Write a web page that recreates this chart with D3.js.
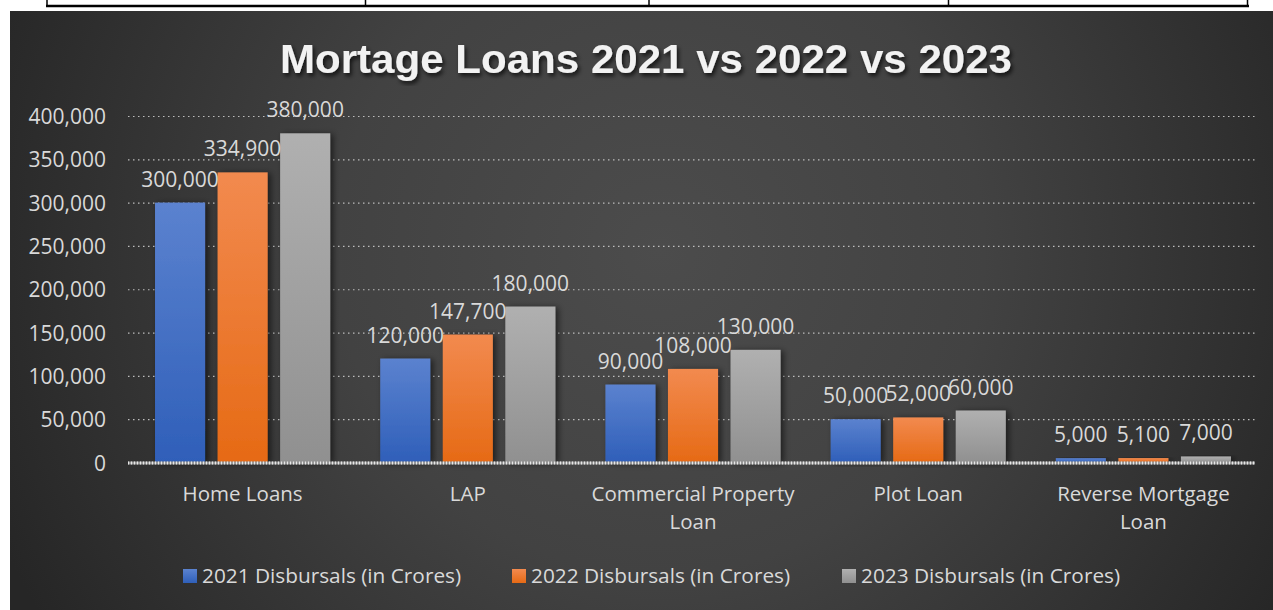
<!DOCTYPE html>
<html>
<head>
<meta charset="utf-8">
<script src="https://cdn.jsdelivr.net/npm/d3@7"></script>
<style>
  body { margin: 0; background: #fff; }
  svg { display: block; }
  .lbl { font-family: "Open Sans", "Liberation Sans", sans-serif; fill: #d9d9d9; }
</style>
</head>
<body>
<svg id="chart" width="1273" height="610"></svg>
<script>
// chart values
const categories = ["Home Loans", "LAP", "Commercial Property Loan", "Plot Loan", "Reverse Mortgage Loan"];
const categoryLines = [["Home Loans"], ["LAP"], ["Commercial Property", "Loan"], ["Plot Loan"], ["Reverse Mortgage", "Loan"]];
const seriesNames = ["2021 Disbursals (in Crores)", "2022 Disbursals (in Crores)", "2023 Disbursals (in Crores)"];
const values2021 = [300000, 120000, 90000, 50000, 5000];
const values2022 = [334900, 147700, 108000, 52000, 5100];
const values2023 = [380000, 180000, 130000, 60000, 7000];
const yTicks = [0, 50000, 100000, 150000, 200000, 250000, 300000, 350000, 400000];
const title = "Mortage Loans 2021 vs 2022 vs 2023";

const seriesValues = [values2021, values2022, values2023];
const colors = [
  ["#5b82cf", "#2f5fb9"],
  ["#f28a4f", "#e66a15"],
  ["#b0b0b0", "#909090"]
];

const svg = d3.select('#chart');
const defs = svg.append('defs');

// page table strip at the very top
const strip = svg.append('g');
strip.append('line').attr('x1', 46).attr('x2', 1249).attr('y1', 6).attr('y2', 6)
  .attr('stroke', '#000').attr('stroke-width', 2.5);
[47, 365.5, 649, 948.5, 1247.5].forEach(x => {
  strip.append('line').attr('x1', x).attr('x2', x).attr('y1', 0).attr('y2', 7)
    .attr('stroke', '#000').attr('stroke-width', 1.5);
});

// background
const bg = defs.append('radialGradient').attr('id', 'bg')
  .attr('gradientUnits', 'userSpaceOnUse')
  .attr('cx', 660).attr('cy', 250).attr('r', 720);
bg.append('stop').attr('offset', '0').attr('stop-color', '#4c4c4c');
bg.append('stop').attr('offset', '0.45').attr('stop-color', '#424242');
bg.append('stop').attr('offset', '1').attr('stop-color', '#262626');
svg.append('rect').attr('x', 10).attr('y', 11).attr('width', 1263).attr('height', 599)
  .attr('fill', 'url(#bg)');

colors.forEach((c, i) => {
  const g = defs.append('linearGradient').attr('id', 'bar' + i)
    .attr('x1', 0).attr('x2', 0).attr('y1', 0).attr('y2', 1);
  g.append('stop').attr('offset', 0).attr('stop-color', c[0]);
  g.append('stop').attr('offset', 1).attr('stop-color', c[1]);
});

const shadow = defs.append('filter').attr('id', 'shadow')
  .attr('x', '-30%').attr('y', '-10%').attr('width', '160%').attr('height', '120%');
shadow.append('feDropShadow').attr('dx', 3).attr('dy', 1).attr('stdDeviation', 3)
  .attr('flood-color', '#000').attr('flood-opacity', 0.55);

const tshadow = defs.append('filter').attr('id', 'tshadow');
tshadow.append('feDropShadow').attr('dx', 2).attr('dy', 3).attr('stdDeviation', 2)
  .attr('flood-color', '#000').attr('flood-opacity', 0.7);

// title
svg.append('text')
  .attr('x', 646).attr('y', 73)
  .attr('text-anchor', 'middle')
  .attr('textLength', 732)
  .attr('lengthAdjust', 'spacingAndGlyphs')
  .style('font-family', '"Liberation Sans", Arial, sans-serif')
  .style('font-weight', 'bold')
  .style('font-size', '40px')
  .style('fill', '#f2f2f2')
  .attr('filter', 'url(#tshadow)')
  .text(title);

// scales
const left = 128, right = 1255;
const xScale = d3.scaleBand().domain(categories).range([130, 1256]);
const xInner = d3.scaleBand().domain(d3.range(3)).range([0, xScale.bandwidth()])
  .paddingInner(0.2).paddingOuter(0.4);
const yScale = d3.scaleLinear().domain([0, 400000]).range([462.5, 116]);
const fmt = d3.format(',');

// gridlines + y labels
const yAxis = d3.axisLeft(yScale).tickValues(yTicks).tickFormat(fmt)
  .tickSize(-(right - left)).tickPadding(22);
const yAxisG = svg.append('g').attr('transform', `translate(${left},0)`).call(yAxis);
yAxisG.select('.domain').remove();
yAxisG.selectAll('.tick line')
  .attr('stroke', '#bdbdbd').attr('stroke-dasharray', '1.5,3.5').attr('stroke-width', 1.2)
  .filter(d => d === 0).remove();
yAxisG.selectAll('.tick text').attr('class', 'lbl')
  .style('font-size', '21px').attr('fill', null).attr('dy', '0.36em');

// bars
const groups = svg.append('g').selectAll('g')
  .data(categories).join('g')
  .attr('transform', d => `translate(${xScale(d)},0)`);

groups.selectAll('rect')
  .data((d, ci) => seriesValues.map((s, si) => ({ si, v: s[ci] })))
  .join('rect')
  .attr('x', d => xInner(d.si))
  .attr('width', xInner.bandwidth())
  .attr('y', d => yScale(d.v))
  .attr('height', d => yScale(0) - yScale(d.v))
  .attr('fill', d => `url(#bar${d.si})`)
  .attr('filter', 'url(#shadow)');

groups.selectAll('text')
  .data((d, ci) => seriesValues.map((s, si) => ({ si, v: s[ci] })))
  .join('text')
  .attr('class', 'lbl')
  .attr('x', d => xInner(d.si) + xInner.bandwidth() / 2)
  .attr('y', d => yScale(d.v) - 16)
  .attr('text-anchor', 'middle')
  .style('font-size', '21px')
  .text(d => fmt(d.v));

// zero axis line
svg.append('line').attr('x1', left).attr('x2', right).attr('y1', 463).attr('y2', 463)
  .attr('stroke', '#9a9a9a').attr('stroke-width', 3);
svg.append('line').attr('x1', left).attr('x2', right).attr('y1', 463).attr('y2', 463)
  .attr('stroke', '#e8e8e8').attr('stroke-width', 3).attr('stroke-dasharray', '1,2');

// category labels
const xAxisG = svg.append('g').attr('transform', 'translate(0,463)')
  .call(d3.axisBottom(xScale).tickSize(0).tickFormat(''));
xAxisG.select('.domain').remove();
xAxisG.selectAll('.tick').each(function (d, i) {
  const t = d3.select(this).append('text').attr('class', 'lbl')
    .attr('text-anchor', 'middle').style('font-size', '20.5px');
  categoryLines[i].forEach((line, j) => {
    t.append('tspan').attr('x', 0).attr('y', 38 + j * 28).text(line);
  });
});

// legend
const legendX = [183, 512, 842];
const legend = svg.append('g').selectAll('g')
  .data(seriesNames).join('g')
  .attr('transform', (d, i) => `translate(${legendX[i]},569)`);
legend.append('rect').attr('width', 14).attr('height', 14)
  .attr('fill', (d, i) => `url(#bar${i})`);
legend.append('text').attr('class', 'lbl')
  .attr('x', 19).attr('y', 14)
  .style('font-size', '20.8px')
  .text(d => d);
</script>
</body>
</html>
